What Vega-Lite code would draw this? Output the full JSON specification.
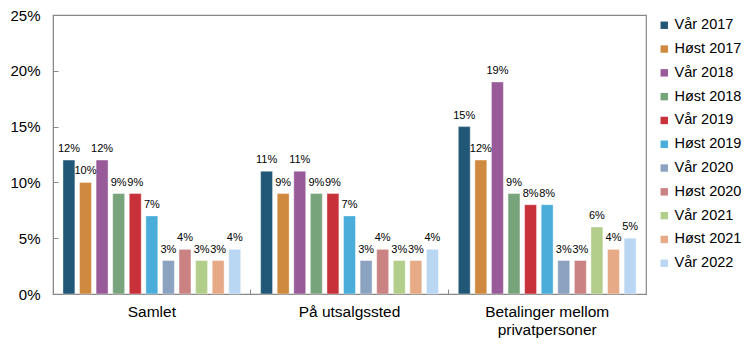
{
  "$schema": "https://vega.github.io/schema/vega-lite/v6.json",
  "width": 593,
  "height": 279,
  "padding": {"left": 9, "top": 8, "right": 5, "bottom": 5},
  "background": "white",
  "config": {
    "font": "Liberation Sans",
    "view": {"stroke": "#888888", "strokeWidth": 1.2},
    "axis": {"labelFont": "Liberation Sans", "labelColor": "#000000", "domainColor": "#888888", "tickColor": "#888888", "grid": false}
  },
  "data": {"values": [
    {"g": "Samlet", "s": "Vår 2017", "v": 0.12},
    {"g": "Samlet", "s": "Høst 2017", "v": 0.10},
    {"g": "Samlet", "s": "Vår 2018", "v": 0.12},
    {"g": "Samlet", "s": "Høst 2018", "v": 0.09},
    {"g": "Samlet", "s": "Vår 2019", "v": 0.09},
    {"g": "Samlet", "s": "Høst 2019", "v": 0.07},
    {"g": "Samlet", "s": "Vår 2020", "v": 0.03},
    {"g": "Samlet", "s": "Høst 2020", "v": 0.04},
    {"g": "Samlet", "s": "Vår 2021", "v": 0.03},
    {"g": "Samlet", "s": "Høst 2021", "v": 0.03},
    {"g": "Samlet", "s": "Vår 2022", "v": 0.04},
    {"g": "På utsalgssted", "s": "Vår 2017", "v": 0.11},
    {"g": "På utsalgssted", "s": "Høst 2017", "v": 0.09},
    {"g": "På utsalgssted", "s": "Vår 2018", "v": 0.11},
    {"g": "På utsalgssted", "s": "Høst 2018", "v": 0.09},
    {"g": "På utsalgssted", "s": "Vår 2019", "v": 0.09},
    {"g": "På utsalgssted", "s": "Høst 2019", "v": 0.07},
    {"g": "På utsalgssted", "s": "Vår 2020", "v": 0.03},
    {"g": "På utsalgssted", "s": "Høst 2020", "v": 0.04},
    {"g": "På utsalgssted", "s": "Vår 2021", "v": 0.03},
    {"g": "På utsalgssted", "s": "Høst 2021", "v": 0.03},
    {"g": "På utsalgssted", "s": "Vår 2022", "v": 0.04},
    {"g": "Betalinger mellom|privatpersoner", "s": "Vår 2017", "v": 0.15},
    {"g": "Betalinger mellom|privatpersoner", "s": "Høst 2017", "v": 0.12},
    {"g": "Betalinger mellom|privatpersoner", "s": "Vår 2018", "v": 0.19},
    {"g": "Betalinger mellom|privatpersoner", "s": "Høst 2018", "v": 0.09},
    {"g": "Betalinger mellom|privatpersoner", "s": "Vår 2019", "v": 0.08},
    {"g": "Betalinger mellom|privatpersoner", "s": "Høst 2019", "v": 0.08},
    {"g": "Betalinger mellom|privatpersoner", "s": "Vår 2020", "v": 0.03},
    {"g": "Betalinger mellom|privatpersoner", "s": "Høst 2020", "v": 0.03},
    {"g": "Betalinger mellom|privatpersoner", "s": "Vår 2021", "v": 0.06},
    {"g": "Betalinger mellom|privatpersoner", "s": "Høst 2021", "v": 0.04},
    {"g": "Betalinger mellom|privatpersoner", "s": "Vår 2022", "v": 0.05}
  ]},
  "encoding": {
    "x": {"field": "g", "type": "nominal", "sort": null,
      "scale": {"paddingInner": 0, "paddingOuter": 0},
      "axis": {"title": null, "labelAngle": 0, "labelFontSize": 15.5, "labelExpr": "split(datum.label, '|')", "bandPosition": 0, "tickSize": -5, "labelPadding": 15, "labelLineHeight": 18, "labelBaseline": "top"}},
    "xOffset": {"field": "s", "type": "nominal", "sort": null,
      "scale": {"paddingInner": 0.28, "paddingOuter": 0.6}},
    "y": {"field": "v", "type": "quantitative",
      "scale": {"domain": [0, 0.25]},
      "axis": {"title": null, "format": ".0%", "values": [0, 0.05, 0.1, 0.15, 0.2, 0.25], "labelFontSize": 15, "tickSize": -5, "labelPadding": 18}}
  },
  "layer": [
    {"mark": {"type": "bar", "stroke": "white", "strokeOpacity": 0.4, "strokeWidth": 1},
     "encoding": {
       "color": {"field": "s", "type": "nominal", "sort": null,
         "scale": {"domain": ["Vår 2017", "Høst 2017", "Vår 2018", "Høst 2018", "Vår 2019", "Høst 2019", "Vår 2020", "Høst 2020", "Vår 2021", "Høst 2021", "Vår 2022"],
           "range": ["#215878", "#CF8A3F", "#985A98", "#78A47C", "#C8313A", "#4AADDA", "#8BA2C1", "#CB8282", "#B3CE8A", "#E6AA86", "#B9D6F2"]},
         "legend": {"title": null, "symbolType": "square", "symbolSize": 55, "symbolStrokeWidth": 0, "labelFontSize": 14.5, "labelColor": "#000000", "rowPadding": 8.8, "offset": 8, "padding": 3, "labelOffset": 3}}
     }},
    {"mark": {"type": "text", "dy": -11, "fontSize": 11, "color": "#000000"},
     "encoding": {"text": {"field": "v", "type": "quantitative", "format": ".0%"}}}
  ]
}
